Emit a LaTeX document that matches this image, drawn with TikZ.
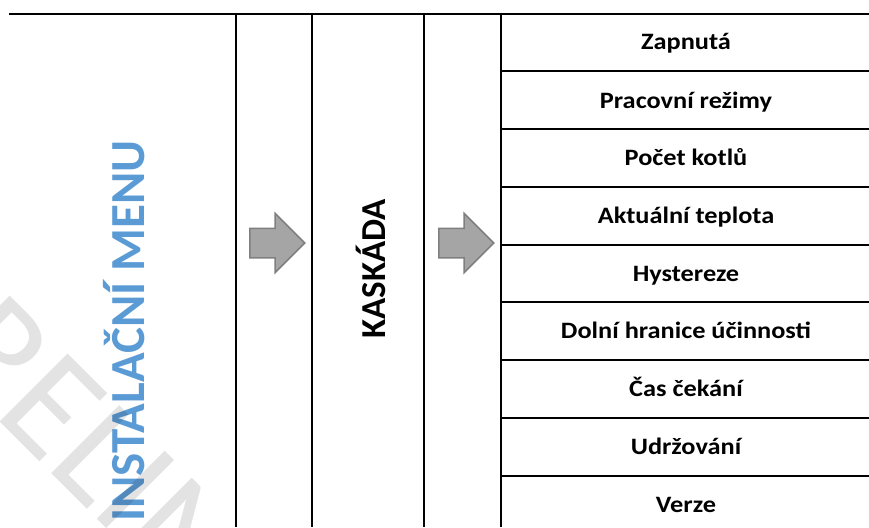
\documentclass[tikz,border=0pt]{standalone}
\usepackage{fontspec}
\setmainfont{Carlito}
\newfontfamily\itemfont[FakeStretch=1.12]{Carlito}
\usepackage{tikz}
\usetikzlibrary{shapes.arrows}

\definecolor{menublue}{HTML}{5B9BD5}
\definecolor{arrowgray}{HTML}{A5A5A5}
\definecolor{arrowedge}{HTML}{7F7F7F}

\begin{document}
\begin{tikzpicture}[x=1pt, y=-1pt,
  rule/.style={line width=2pt, black},
  item/.style={font=\itemfont\fontsize{23.5}{26}\selectfont\bfseries, anchor=base, inner sep=0pt},
  menutitle/.style={rotate=90, anchor=base, inner sep=0pt,
    font=\fontsize{49}{56}\selectfont\bfseries, text=menublue},
  subtitle/.style={rotate=90, anchor=base, inner sep=0pt,
    font=\fontsize{35}{40}\selectfont\bfseries},
  flow/.style={single arrow, draw=arrowedge, fill=arrowgray, line width=1.5pt,
    inner sep=0pt, inner ysep=14pt, minimum height=55pt,
    single arrow head extend=15pt, single arrow tip angle=90, anchor=tail},
  stamp/.style={rotate=-45, anchor=base west, inner sep=0pt,
    font=\fontsize{150}{150}\selectfont, text=black, text opacity=0.11},
]
\useasboundingbox (0,0) rectangle (869,527);

% Frame
\draw[rule] (9,14) -- (869,14);
\draw[rule] (236,14) -- (236,527);
\draw[rule] (312,14) -- (312,527);
\draw[rule] (424,14) -- (424,527);
\draw[rule] (501,14) -- (501,527);

% Rows of the list
\draw[rule] (501,71.25) -- (869,71.25);
\draw[rule] (501,129) -- (869,129);
\draw[rule] (501,186.75) -- (869,186.75);
\draw[rule] (501,244.5) -- (869,244.5);
\draw[rule] (501,302.25) -- (869,302.25);
\draw[rule] (501,360) -- (869,360);
\draw[rule] (501,417.75) -- (869,417.75);
\draw[rule] (501,475.5) -- (869,475.5);

% Titles
\node[menutitle] (menu) at (144,331) {INSTALAČNÍ MENU};
\node[subtitle] (kaskada) at (385,269) {KASKÁDA};

% Arrows
\node[flow] (arr1) at (249,243) {};
\node[flow] (arr2) at (438,243) {};

% Items
\node[item] (zapnuta) at (686,50) {Zapnutá};
\node[item] (rezimy) at (686,108) {Pracovní režimy};
\node[item] (kotle) at (686,165.5) {Počet kotlů};
\node[item] (teplota) at (686,223.3) {Aktuální teplota};
\node[item] (hystereze) at (686,281) {Hystereze};
\node[item] (ucinnost) at (686,338.5) {Dolní hranice účinnosti};
\node[item] (cekani) at (686,396.5) {Čas čekání};
\node[item] (udrzovani) at (686,454.2) {Udržování};
\node[item] (verze) at (686,512) {Verze};

% Watermark
\begin{scope}
\clip (0,0) rectangle (869,527);
\node[stamp] (wmark) at (-120,302) {PRELIMINARY};
\end{scope}

\end{tikzpicture}
\end{document}
